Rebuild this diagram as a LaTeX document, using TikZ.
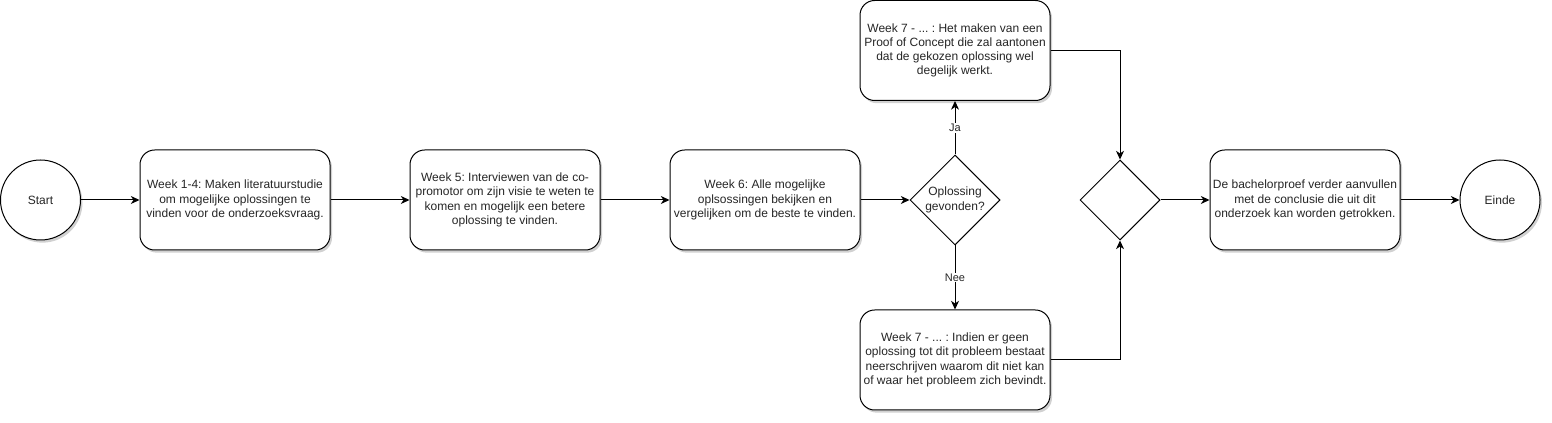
\documentclass[tikz,border=0pt]{standalone}
\usepackage{fontspec}
\setmainfont{Liberation Sans}
\usetikzlibrary{shapes.geometric,arrows.meta,shadows}
\frenchspacing
\begin{document}
\begin{tikzpicture}[x=0.75pt,y=-0.75pt,
  every node/.style={font=\fontsize{9}{10.7}\selectfont, text=black!85},
  shd/.style={drop shadow={shadow xshift=1.5pt,shadow yshift=-2pt,opacity=0.18,fill=black}},
  stepbox/.style={draw, line width=0.75pt, rounded corners=11pt, fill=white, shd,
    minimum width=142.5pt, minimum height=75pt, inner sep=0pt, align=center},
  term/.style={draw, line width=0.75pt, circle, fill=white, shd, minimum size=60pt, inner sep=0pt},
  dec/.style={draw, line width=0.75pt, diamond, fill=white, inner sep=0pt},
  conn/.style={line width=0.75pt, -{Stealth[length=6.5pt,width=6pt,inset=2pt]}},
  lbl/.style={fill=white, inner sep=0.8pt, font=\fontsize{8.25}{9}\selectfont}
]
\useasboundingbox (0,0) rectangle (1552,423);

\node[term] (start) at (40.5,200) {Start};
\node[stepbox] (b1) at (235,200) {Week 1-4: Maken literatuurstudie\\om mogelijke oplossingen te\\vinden voor de onderzoeksvraag.};
\node[stepbox] (b2) at (505,200) {Week 5: Interviewen van de co-\\promotor om zijn visie te weten te\\komen en mogelijk een betere\\oplossing te vinden.};
\node[stepbox] (b3) at (765,200) {Week 6: Alle mogelijke\\oplsossingen bekijken en\\vergelijken om de beste te vinden.};
\node[dec, minimum width=67.5pt, minimum height=67.5pt] (d1) at (955,200) {};
\node[align=center] (d1t) at (d1.center) {Oplossing\\gevonden?};
\node[stepbox] (top) at (955,50.5) {Week 7 - ... : Het maken van een\\Proof of Concept die zal aantonen\\dat de gekozen oplossing wel\\degelijk werkt.};
\node[stepbox] (bot) at (955,360) {Week 7 - ... : Indien er geen\\oplossing tot dit probleem bestaat\\neerschrijven waarom dit niet kan\\of waar het probleem zich bevindt.};
\node[dec, minimum width=60pt, minimum height=60pt] (d2) at (1120,200) {};
\node[stepbox] (fin) at (1305,200) {De bachelorproef verder aanvullen\\met de conclusie die uit dit\\onderzoek kan worden getrokken.};
\node[term] (einde) at (1500,200) {Einde};

\draw[conn] (start) -- (b1);
\draw[conn] (b1) -- (b2);
\draw[conn] (b2) -- (b3);
\draw[conn] (b3) -- (d1);
\draw[conn] (d1.north) -- node[lbl, pos=0.5] (ja) {Ja} (top.south);
\draw[conn] (d1.south) -- node[lbl, pos=0.5] (nee) {Nee} (bot.north);
\draw[conn] (top.east) -| (d2.north);
\draw[conn] (bot.east) -| (d2.south);
\draw[conn] (d2) -- (fin);
\draw[conn] (fin) -- (einde);
\end{tikzpicture}
\end{document}
